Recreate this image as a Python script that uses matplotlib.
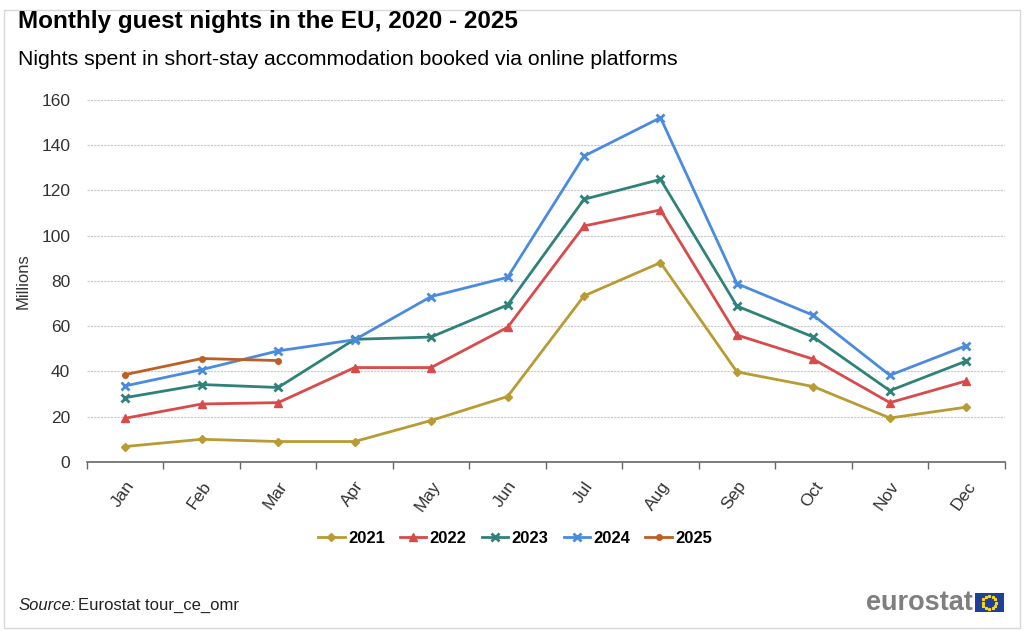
import numpy as np
import matplotlib.pyplot as plt
from matplotlib.patches import Rectangle

plt.rcParams['font.family'] = ['Liberation Sans', 'DejaVu Sans']

months = ['Jan', 'Feb', 'Mar', 'Apr', 'May', 'Jun',
          'Jul', 'Aug', 'Sep', 'Oct', 'Nov', 'Dec']
y2021 = [6.8, 10.0, 9.0, 9.0, 18.3, 28.9, 73.4, 88.1, 39.8, 33.3, 19.4, 24.2]
y2022 = [19.3, 25.6, 26.2, 41.7, 41.7, 59.5, 104.3, 111.4, 56.1, 45.4, 26.2, 35.8]
y2023 = [28.4, 34.2, 32.9, 54.2, 55.2, 69.4, 116.1, 124.9, 68.9, 55.2, 31.5, 44.6]
y2024 = [33.6, 40.8, 49.1, 54.0, 73.1, 81.6, 135.2, 152.2, 78.8, 64.8, 38.3, 51.4]
y2025 = [38.6, 45.7, 44.8]

series = [
    ('2021', y2021, '#b99b34', 'D', 4),
    ('2022', y2022, '#d94a4a', '^', 6),
    ('2023', y2023, '#2f8279', 'x', 6),
    ('2024', y2024, '#4a8be0', 'x', 6),
    ('2025', y2025, '#bd5f25', 'o', 4),
]

fig = plt.figure(figsize=(10.24, 6.31), dpi=100)
ax = fig.add_axes([0.085, 0.268, 0.896, 0.5735])

x = np.arange(len(months))
for name, vals, col, mk, ms in series:
    ax.plot(x[:len(vals)], vals, color=col, lw=2.0, marker=mk, ms=ms,
            mew=2.0 if mk == 'x' else 1.0, label=name)

ax.set_xlim(-0.5, 11.5)
ax.set_ylim(0, 160)
ax.set_yticks(range(0, 161, 20))
ax.yaxis.grid(True, color='#c8c8c8', ls=(0, (2, 1)), lw=0.8)
ax.set_axisbelow(True)
ax.tick_params(axis='y', length=0, labelsize=12.5, colors='#333333', pad=12)

ax.set_xticks(x)
ax.set_xticklabels(months, rotation=55, ha='right', rotation_mode='anchor',
                   fontsize=12.5, color='#333333')
ax.set_xticks(np.arange(-0.5, 12, 1), minor=True)
ax.tick_params(axis='x', which='major', length=0, pad=12)
ax.tick_params(axis='x', which='minor', length=5, color='#666666', width=1)

for s in ['top', 'right', 'left']:
    ax.spines[s].set_visible(False)
ax.spines['bottom'].set_color('#666666')
ax.spines['bottom'].set_linewidth(1.2)

ax.set_ylabel('Millions', fontsize=12, color='#333333')
ax.yaxis.set_label_coords(-0.062, 0.5)

ax.legend(loc='center', bbox_to_anchor=(0.503, 0.147), bbox_transform=fig.transFigure,
          ncol=5, frameon=False, handlelength=1.6, columnspacing=0.9,
          handletextpad=0.2, prop={'weight': 'bold', 'size': 12})

fig.text(0.018, 0.966, 'Monthly guest nights in the EU, 2020 - 2025',
         fontsize=17.5, fontweight='bold', va='center')
fig.text(0.018, 0.906, 'Nights spent in short-stay accommodation booked via online platforms',
         fontsize=15.3, va='center')

fig.text(0.018, 0.04, 'Source:', fontsize=12, style='italic', va='center', color='#222222')
fig.text(0.076, 0.04, 'Eurostat tour_ce_omr', fontsize=12, va='center', color='#222222')

fig.text(0.950, 0.044, 'eurostat', fontsize=19.5, fontweight='bold',
         color='#7f7f7f', ha='right', va='center')
fig.patches.append(Rectangle((0.952, 0.030), 0.028, 0.030, transform=fig.transFigure,
                             facecolor='#1f3f9a', edgecolor='none'))
ang = np.linspace(0, 2 * np.pi, 12, endpoint=False)
fig.add_artist(plt.Line2D(0.966 + 0.0065 * np.cos(ang), 0.045 + 0.0105 * np.sin(ang),
                          ls='none', marker='*', ms=2, color='#ffd800',
                          transform=fig.transFigure))

fig.patches.append(Rectangle((0.004, 0.004), 0.992, 0.98, transform=fig.transFigure,
                             fill=False, edgecolor='#d8d8d8', lw=1))

fig.savefig('out.png', dpi=100)
